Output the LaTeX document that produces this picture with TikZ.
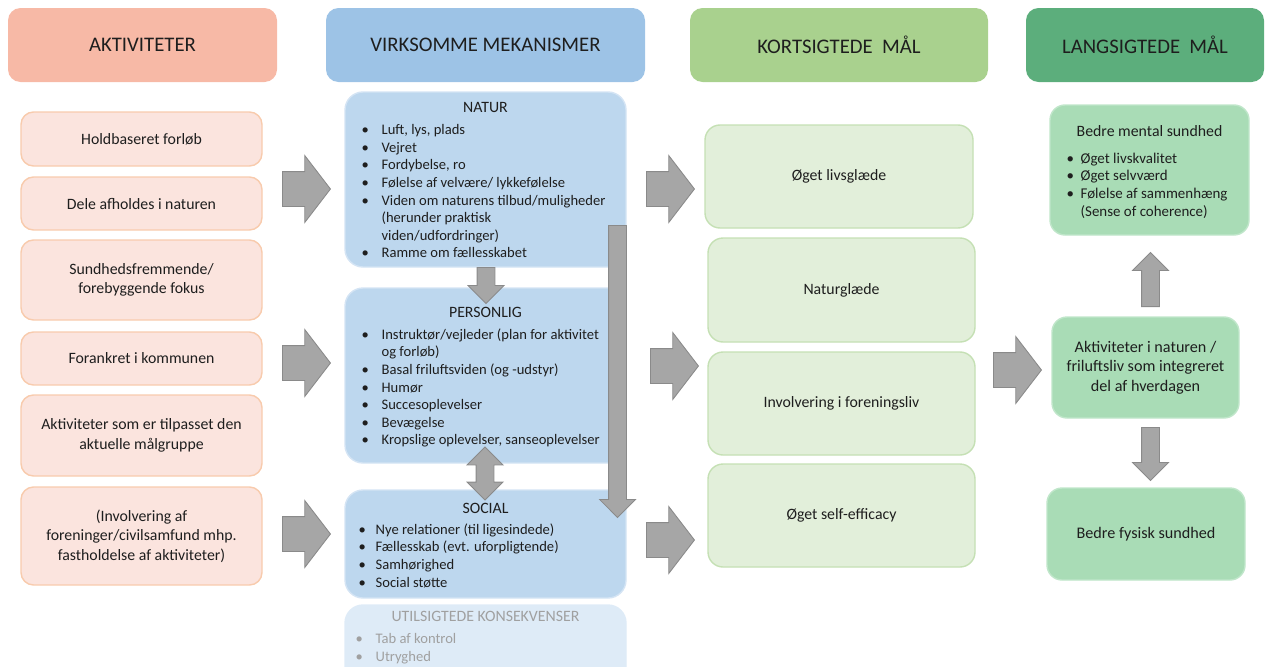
\documentclass[tikz,border=0pt]{standalone}
\usepackage{fontspec}
\setmainfont{Carlito}
\usetikzlibrary{shapes.arrows,positioning,calc}

\definecolor{hdrakt}{RGB}{247,185,166}
\definecolor{hdrvirk}{RGB}{157,195,230}
\definecolor{hdrkort}{RGB}{169,209,142}
\definecolor{hdrlang}{RGB}{92,174,124}
\definecolor{aktfill}{RGB}{251,228,222}
\definecolor{aktline}{RGB}{248,203,173}
\definecolor{mekfill}{RGB}{189,215,238}
\definecolor{mekline}{RGB}{212,228,244}
\definecolor{utilfill}{RGB}{222,235,247}
\definecolor{utiltekst}{RGB}{160,160,160}
\definecolor{kortfill}{RGB}{226,239,218}
\definecolor{kortline}{RGB}{197,224,180}
\definecolor{langfill}{RGB}{169,220,182}
\definecolor{langline}{RGB}{192,230,202}
\definecolor{pilfill}{RGB}{166,166,166}
\definecolor{pilline}{RGB}{138,138,138}
\definecolor{tekst}{RGB}{30,30,30}

\newcommand{\pkt}[1][0.4cm]{\makebox[#1][l]{\textbullet}}

\tikzset{
  sz/.style 2 args={minimum width=#1*0.02cm, minimum height=#2*0.02cm},
  hoved/.style={rounded corners=0.25cm, inner sep=0pt, text=tekst, font=\fontsize{11.8}{14}\selectfont},
  aktboks/.style={rounded corners=0.25cm, draw=aktline, fill=aktfill, line width=0.8pt, align=center, inner sep=0pt, text=tekst, font=\fontsize{9}{11}\selectfont},
  mekboks/.style={rounded corners=0.36cm, draw=mekline, fill=mekfill, line width=0.8pt, inner sep=0pt},
  kortboks/.style={rounded corners=0.3cm, draw=kortline, fill=kortfill, line width=0.8pt, align=center, inner sep=0pt, text=tekst, font=\fontsize{9}{11}\selectfont},
  langboks/.style={rounded corners=0.3cm, draw=langline, fill=langfill, line width=0.8pt, align=center, inner sep=0pt, text=tekst, font=\fontsize{9.2}{11}\selectfont},
  titel/.style={inner sep=0pt, text=tekst, font=\fontsize{9}{11}\selectfont},
  liste/.style={anchor=north west, align=left, inner sep=0pt, text=tekst, font=\fontsize{8.3}{10}\selectfont},
  hpil/.style={single arrow, draw=pilline, fill=pilfill, line width=0.5pt, inner xsep=0pt, inner ysep=0.34cm,
    minimum height=0.96cm, single arrow head extend=0.32cm, single arrow tip angle=105, anchor=tail},
  vpil/.style={single arrow, draw=pilline, fill=pilfill, line width=0.5pt, inner xsep=0.17cm, inner ysep=0pt,
    minimum height=#1, single arrow head extend=0.18cm, single arrow tip angle=90, anchor=tail},
}

\begin{document}
\begin{tikzpicture}[x=0.02cm, y=-0.02cm]
  \useasboundingbox (0,0) rectangle (1266,666);
  \clip (0,0) rectangle (1266,666);

  % overskrifter
  \node[hoved, fill=hdrakt, sz={269}{74}] (hakt) at (142.5,45) {AKTIVITETER};
  \node[hoved, fill=hdrvirk, sz={319}{74}] (hvirk) at (485.5,45) {VIRKSOMME MEKANISMER};
  \node[hoved, fill=hdrkort, sz={298}{74}] (hkort) at (839,45) {KORTSIGTEDE\hspace{0.45em}MÅL};
  \node[hoved, fill=hdrlang, sz={238}{74}] (hlang) at (1145,45) {LANGSIGTEDE\hspace{0.45em}MÅL};

  % aktiviteter
  \foreach \n/\cy/\h/\txt in {akt1/139/54/{Holdbaseret forløb}, akt2/203.5/53/{Dele afholdes i naturen},
      akt3/280/80/{Sundhedsfremmende/\\forebyggende fokus}, akt4/358.5/53/{Forankret i kommunen},
      akt5/435.5/81/{Aktiviteter som er tilpasset den\\aktuelle målgruppe},
      akt6/536/98/{(Involvering af\\foreninger/civilsamfund mhp.\\fastholdelse af aktiviteter)}}
    \node[aktboks, sz={241}{\h}] (\n) at (141.5,\cy) {\txt};

  % virksomme mekanismer
  \node[mekboks, sz={281}{175}] (natur) at (485.5,179.5) {};
  \node[titel] (naturtitel) at ($(natur.north)+(0,16)$) {NATUR};
  \node[liste] (naturliste) at ($(natur.north west)+(17,33)$) {\pkt Luft, lys, plads\\ \pkt Vejret\\
    \pkt Fordybelse, ro\\ \pkt Følelse af velvære/ lykkefølelse\\ \pkt Viden om naturens tilbud/muligheder\\
    \hspace*{0.4cm}(herunder praktisk\\ \hspace*{0.4cm}viden/udfordringer)\\ \pkt Ramme om fællesskabet};

  \node[mekboks, sz={281}{175}] (pers) at (485.5,375.5) {};
  \node[titel] (perstitel) at ($(pers.north)+(0,25)$) {PERSONLIG};
  \node[liste] (persliste) at ($(pers.north west)+(17,41)$) {\pkt Instruktør/vejleder (plan for aktivitet\\
    \hspace*{0.4cm}og forløb)\\ \pkt Basal friluftsviden (og -udstyr)\\ \pkt Humør\\ \pkt Succesoplevelser\\
    \pkt Bevægelse\\ \pkt Kropslige oplevelser, sanseoplevelser};

  \node[mekboks, sz={281}{108}] (social) at (485.5,544) {};
  \node[titel] (socialtitel) at ($(social.north)+(0,19)$) {SOCIAL};
  \node[liste] (socialliste) at ($(social.north west)+(14,34)$) {\pkt[0.34cm]Nye relationer (til ligesindede)\\
    \pkt[0.34cm]Fællesskab (evt. uforpligtende)\\ \pkt[0.34cm]Samhørighed\\ \pkt[0.34cm]Social støtte};

  \node[mekboks, fill=utilfill, draw=utilfill, sz={281}{80}] (util) at (485.5,645) {};
  \node[titel, text=utiltekst] (utiltitel) at ($(util.north)+(0,12)$) {UTILSIGTEDE KONSEKVENSER};
  \node[liste, text=utiltekst] (utilliste) at ($(util.north west)+(11,29)$) {\pkt Tab af kontrol\\ \pkt Utryghed};

  % kortsigtede mål
  \node[kortboks, sz={268}{103}] (kort1) at (839,176.5) {Øget livsglæde};
  \node[kortboks, sz={267}{104}] (kort2) at (841.5,290) {Naturglæde};
  \node[kortboks, sz={267}{103}] (kort3) at (841.5,403.5) {Involvering i foreningsliv};
  \node[kortboks, sz={267}{103}] (kort4) at (841.5,515.5) {Øget self-efficacy};

  % langsigtede mål
  \node[langboks, sz={199}{130}] (lang1) at (1149.5,170) {};
  \node[titel] (lang1titel) at ($(lang1.north)+(0,27)$) {Bedre mental sundhed};
  \node[liste, font=\fontsize{8.5}{10.2}\selectfont] (lang1liste) at ($(lang1.north west)+(17,48)$) {\pkt[0.28cm]Øget livskvalitet\\
    \pkt[0.28cm]Øget selvværd\\ \pkt[0.28cm]Følelse af sammenhæng\\ \hspace*{0.28cm}(Sense of coherence)};
  \node[langboks, sz={187}{101}] (lang2) at (1145.5,367.5) {Aktiviteter i naturen /\\friluftsliv som integreret\\del af hverdagen};
  \node[langboks, sz={198}{92}] (lang3) at (1146,534) {Bedre fysisk sundhed};

  % pile
  \foreach \n/\x/\y in {p1/282/189, p2/282/363, p3/282/534, p4/646/189, p5/650/366, p6/646/540, p7/993/370}
    \node[hpil] (\n) at (\x,\y) {};
  \node[vpil=0.72cm, shape border rotate=270] (ned1) at (486,267) {};
  \node[double arrow, draw=pilline, fill=pilfill, line width=0.5pt, inner xsep=0.17cm, inner ysep=0pt, minimum height=1.06cm,
    double arrow head extend=0.18cm, double arrow tip angle=90, shape border rotate=90] (dobbelt) at (485,473.5) {};
  \node[vpil=5.84cm, shape border rotate=270] (langpil) at (617.5,225) {};
  \node[vpil=1.08cm, shape border rotate=90] (op) at (1150.5,307) {};
  \node[vpil=1.06cm, shape border rotate=270] (ned2) at (1150.5,427) {};
\end{tikzpicture}
\end{document}
